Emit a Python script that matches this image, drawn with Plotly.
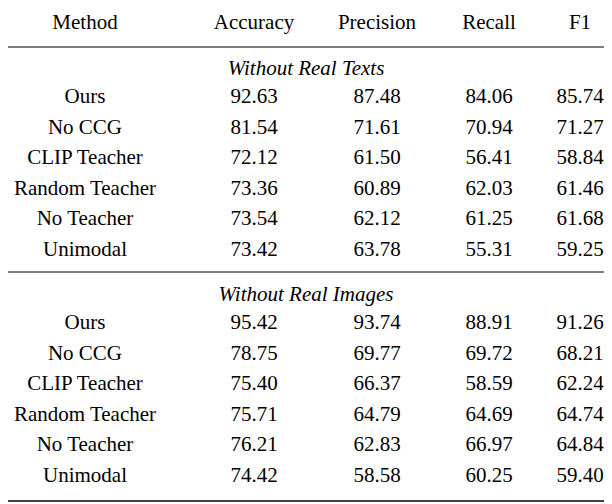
import plotly.graph_objects as go

columns = ["Method", "Accuracy", "Precision", "Recall", "F1"]
methods = ["Ours", "No CCG", "CLIP Teacher", "Random Teacher", "No Teacher", "Unimodal"]
sections = ["Without Real Texts", "Without Real Images"]

texts_acc = [92.63, 81.54, 72.12, 73.36, 73.54, 73.42]
texts_prec = [87.48, 71.61, 61.50, 60.89, 62.12, 63.78]
texts_rec = [84.06, 70.94, 56.41, 62.03, 61.25, 55.31]
texts_f1 = [85.74, 71.27, 58.84, 61.46, 61.68, 59.25]

images_acc = [95.42, 78.75, 75.40, 75.71, 76.21, 74.42]
images_prec = [93.74, 69.77, 66.37, 64.79, 62.83, 58.58]
images_rec = [88.91, 69.72, 58.59, 64.69, 66.97, 60.25]
images_f1 = [91.26, 68.21, 62.24, 64.74, 64.84, 59.40]

W, H = 612, 504
OFF = 8  # page body margin
col_x = [85, 254, 377, 489, 580]
font = dict(family="Liberation Serif, Times New Roman, serif", size=21, color="black")

fig = go.Figure()

# header
fig.add_trace(go.Scatter(x=col_x, y=[24] * 5, text=columns, mode="text",
                         textfont=font, hoverinfo="skip", cliponaxis=False))

blocks = [
    (texts_acc, texts_prec, texts_rec, texts_f1, 70),
    (images_acc, images_prec, images_rec, images_f1, 296),
]
for (acc, prec, rec, f1, y0), title in zip(blocks, sections):
    fig.add_trace(go.Scatter(x=[W / 2], y=[y0], text=[f"<i>{title}</i>"], mode="text",
                             textfont=font, hoverinfo="skip", cliponaxis=False))
    ys = [y0 + 28 + 30.5 * i for i in range(len(methods))]
    for cx, vals in zip(col_x, [methods, acc, prec, rec, f1]):
        labels = [v if isinstance(v, str) else f"{v:.2f}" for v in vals]
        fig.add_trace(go.Scatter(x=[cx] * len(ys), y=ys, text=labels, mode="text",
                                 textfont=font, hoverinfo="skip", cliponaxis=False))

for y, w in [(2, 1.5), (47, 1), (272, 1), (501, 1.5)]:
    fig.add_shape(type="line", x0=0, x1=W, y0=y, y1=y, line=dict(color="black", width=w))

fig.update_layout(
    width=W - OFF, height=H - OFF, margin=dict(l=0, r=0, t=0, b=0),
    plot_bgcolor="white", paper_bgcolor="white", showlegend=False,
    xaxis=dict(range=[OFF, W], visible=False, fixedrange=True),
    yaxis=dict(range=[H, OFF], visible=False, fixedrange=True),
)

fig.write_html("out.html", config={"displayModeBar": False})
